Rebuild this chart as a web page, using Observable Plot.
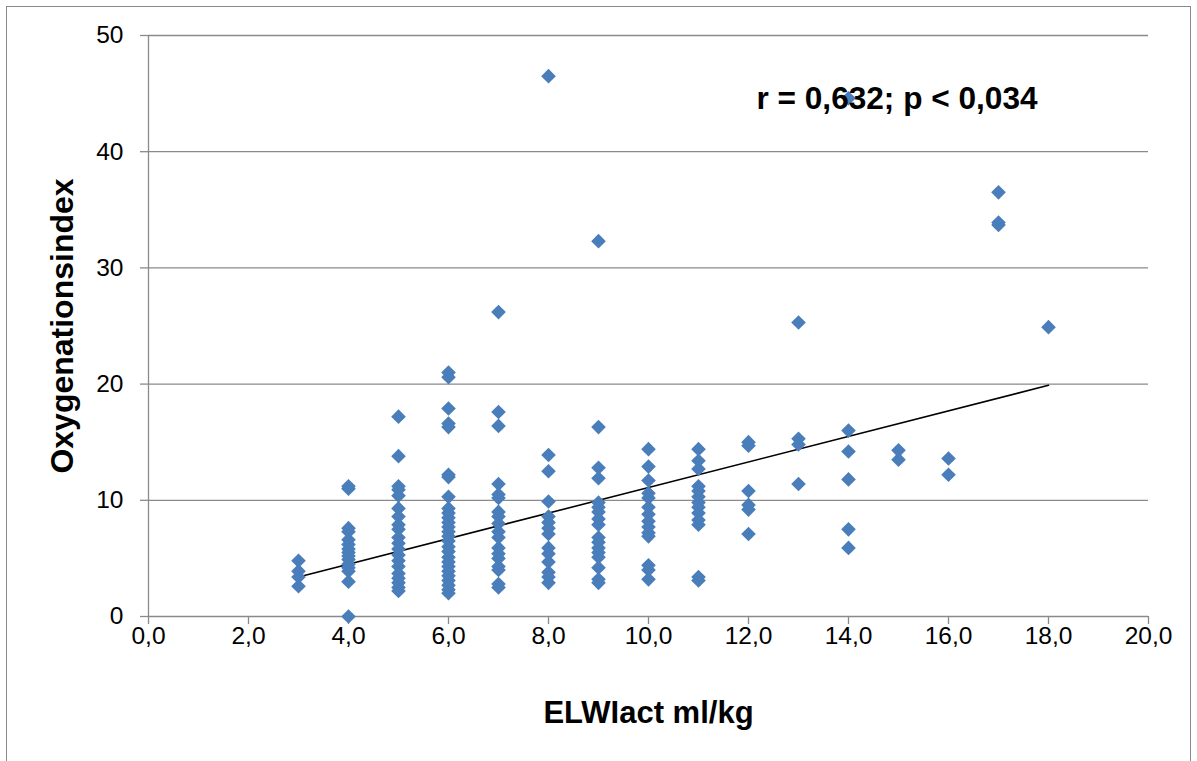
<!DOCTYPE html>
<html><head><meta charset="utf-8">
<script src="https://cdn.jsdelivr.net/npm/d3@7"></script>
<script src="https://cdn.jsdelivr.net/npm/@observablehq/plot@0.6"></script>
<style>
html,body{margin:0;padding:0;background:#fff;overflow:hidden}
#wrap{position:relative;width:1197px;height:761px}
#frame{position:absolute;left:6px;top:6px;width:1185px;height:800px;border:1.5px solid #8a8a8a;box-sizing:border-box}
#chart{position:absolute;left:0;top:0}
</style></head><body>
<div id="wrap"><div id="frame"></div><div id="chart"></div></div>
<script>
// ELWIact levels (ml/kg) and the oxygenation index values observed at each level
const elwiLevels = [3, 4, 5, 6, 7, 8, 9, 10, 11, 12, 13, 14, 15, 16, 17, 18];
const oi3 = [4.8, 3.9, 3.4, 2.6];
const oi4 = [11.2, 11.0, 7.6, 7.3, 6.6, 6.2, 5.8, 5.5, 5.2, 4.9, 4.5, 4.2, 3.9, 3.0, 0.0];
const oi5 = [17.2, 13.8, 11.2, 10.9, 10.4, 9.3, 8.6, 7.9, 7.5, 6.8, 6.3, 5.8, 5.3, 4.8, 4.3, 3.7, 3.3, 2.9, 2.5, 2.2];
const oi6 = [21.0, 20.6, 17.9, 16.6, 16.3, 12.2, 12.0, 10.3, 9.3, 8.9, 8.5, 8.1, 7.7, 7.3, 6.9, 6.5, 6.0, 5.6, 5.1, 4.7, 4.3, 3.9, 3.5, 3.1, 2.7, 2.3, 2.0];
const oi7 = [26.2, 17.6, 16.4, 11.4, 10.5, 10.2, 9.0, 8.6, 8.0, 7.3, 6.8, 5.9, 5.4, 5.0, 4.3, 4.0, 2.8, 2.5];
const oi8 = [46.5, 13.9, 12.5, 9.9, 8.6, 8.1, 7.6, 7.1, 5.9, 5.4, 4.7, 3.8, 3.4, 2.9];
const oi9 = [32.3, 16.3, 12.8, 11.9, 9.8, 9.4, 9.0, 8.4, 7.9, 6.8, 6.4, 5.9, 5.5, 5.1, 4.2, 3.2, 2.9];
const oi10 = [14.4, 12.9, 11.7, 10.6, 10.2, 9.4, 8.8, 8.2, 7.7, 7.2, 6.9, 4.4, 4.0, 3.2];
const oi11 = [14.4, 13.4, 12.7, 11.2, 10.8, 10.3, 9.8, 9.4, 8.9, 8.3, 7.9, 3.4, 3.1];
const oi12 = [15.0, 14.7, 10.8, 9.6, 9.2, 7.1];
const oi13 = [25.3, 15.3, 14.8, 11.4];
const oi14 = [44.6, 16.0, 14.2, 11.8, 7.5, 5.9];
const oi15 = [14.3, 13.5];
const oi16 = [13.6, 12.2];
const oi17 = [36.5, 33.9, 33.7];
const oi18 = [24.9];
const oiByLevel = [oi3, oi4, oi5, oi6, oi7, oi8, oi9, oi10, oi11, oi12, oi13, oi14, oi15, oi16, oi17, oi18];

// linear trend line end points
const trendX = [3, 18];
const trendY = [3.4, 19.9];

const xTicks = [0, 2, 4, 6, 8, 10, 12, 14, 16, 18, 20];
const yTicks = [0, 10, 20, 30, 40, 50];
const xLabel = "ELWIact ml/kg";
const yLabel = "Oxygenationsindex";
const annotation = "r = 0,632; p < 0,034";
const annX = 12.16, annY = 43.7;

const points = elwiLevels.flatMap((x, i) => oiByLevel[i].map(y => ({x, y})));
const trend = trendX.map((x, i) => ({x, y: trendY[i]}));
const gridColor = "#8a8a8a";
const font = "'Liberation Sans', Arial, sans-serif";

const chart = Plot.plot({
  width: 1197, height: 761,
  marginLeft: 148, marginRight: 49, marginTop: 35, marginBottom: 145,
  style: {fontFamily: font, fontSize: "24.5px", color: "#000", background: "transparent", overflow: "visible"},
  x: {domain: [0, 20]},
  y: {domain: [0, 50]},
  marks: [
    Plot.gridY(yTicks.filter(d => d > 0), {stroke: gridColor, strokeOpacity: 1, strokeWidth: 1.3}),
    Plot.ruleY([0], {stroke: gridColor, strokeWidth: 1.3}),
    Plot.ruleX([0], {stroke: gridColor, strokeWidth: 1.3}),
    Plot.axisX({ticks: xTicks, tickFormat: d => d.toFixed(1).replace(".", ","), tickSize: 8, tickPadding: 2, stroke: gridColor, strokeWidth: 1.3, fill: "#000", fontSize: 24.5, label: null}),
    Plot.axisY({ticks: yTicks, tickFormat: d => String(d), tickSize: 8, tickPadding: 17, stroke: gridColor, strokeWidth: 1.3, fill: "#000", fontSize: 24.5, label: null}),
    Plot.line(trend, {x: "x", y: "y", stroke: "#000", strokeWidth: 1.6}),
    Plot.dot(points, {x: "x", y: "y", symbol: "diamond2", r: 6.6, fill: "#4a7ebb", stroke: null}),
    Plot.text([{x: annX, y: annY, t: annotation}], {x: "x", y: "y", text: "t", textAnchor: "start", lineAnchor: "bottom", fontSize: 31.6, fontWeight: "bold", fill: "#000"}),
    Plot.text([xLabel], {frameAnchor: "bottom", dy: 97, text: d => d, textAnchor: "middle", lineAnchor: "middle", fontSize: 31, fontWeight: "bold", fill: "#000"}),
    Plot.text([yLabel], {frameAnchor: "left", dx: -86, rotate: -90, text: d => d, textAnchor: "middle", lineAnchor: "middle", fontSize: 32, fontWeight: "bold", fill: "#000"})
  ]
});
document.getElementById("chart").appendChild(chart);
</script>
</body></html>
